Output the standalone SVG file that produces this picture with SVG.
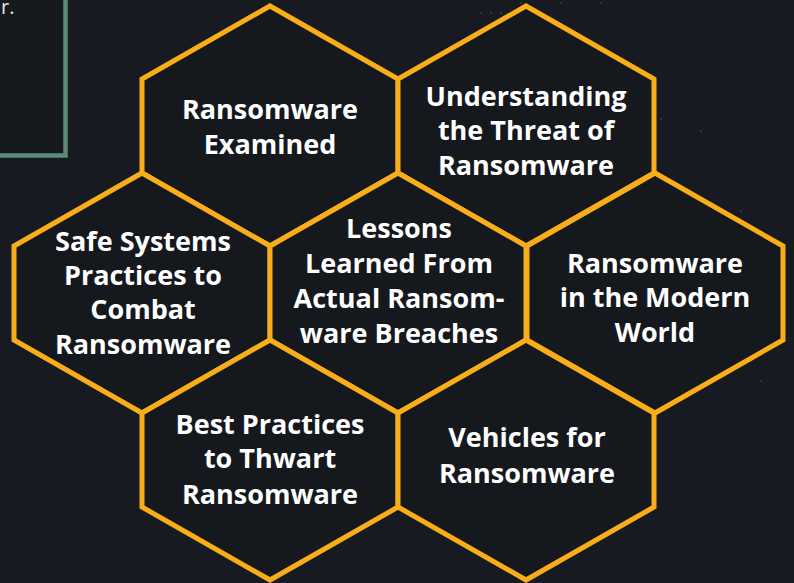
<svg xmlns="http://www.w3.org/2000/svg" width="794" height="583" viewBox="0 0 794 583">
<style>
.hex{fill:#15181d;stroke:#f9ad19;stroke-width:5;stroke-linejoin:miter}
.lbl{font-family:"Open Sans","Noto Sans","Liberation Sans",sans-serif;font-weight:700;font-size:27px;fill:#ffffff;text-anchor:middle}
.dot{fill:#2f5a45;opacity:0.5}
</style>
<defs>
<polygon id="h" points="0,-120 128,-47 128,47 0,120 -128,47 -128,-47"/>
</defs>
<rect x="0" y="0" width="794" height="583" fill="#171b21"/>
<g id="dots">
<rect class="dot" x="480" y="12" width="2" height="2"/>
<rect class="dot" x="490" y="12" width="2" height="2"/>
<rect class="dot" x="500" y="12" width="2" height="2"/>
<rect class="dot" x="520" y="2" width="2" height="2"/>
<rect class="dot" x="560" y="2" width="2" height="2"/>
<rect class="dot" x="600" y="2" width="2" height="2"/>
<rect class="dot" x="660" y="118" width="2" height="2"/>
<rect class="dot" x="700" y="130" width="2" height="2"/>
<rect class="dot" x="740" y="210" width="2" height="2"/>
<rect class="dot" x="760" y="380" width="2" height="2"/>
</g>
<g id="intro-box">
<rect x="-10" y="-10" width="75.5" height="165.5" fill="#161a1f" stroke="#5a8c78" stroke-width="4.5"/>
<text x="1" y="14" font-family="Open Sans,Noto Sans,Liberation Sans,sans-serif" font-size="20" fill="#e6e6e6">r.</text>
</g>
<g id="hex-ransomware-examined">
<use href="#h" class="hex" x="270" y="126"/>
<text class="lbl" x="270" y="119">Ransomware</text>
<text class="lbl" x="270" y="154">Examined</text>
</g>
<g id="hex-understanding-threat">
<use href="#h" class="hex" x="526" y="126"/>
<text class="lbl" x="526" y="106">Understanding</text>
<text class="lbl" x="526" y="140">the Threat of</text>
<text class="lbl" x="526" y="175">Ransomware</text>
</g>
<g id="hex-safe-systems">
<use href="#h" class="hex" x="142" y="293"/>
<text class="lbl" x="143" y="251">Safe Systems</text>
<text class="lbl" x="143" y="285">Practices to</text>
<text class="lbl" x="143" y="319">Combat</text>
<text class="lbl" x="143" y="354">Ransomware</text>
</g>
<g id="hex-lessons-learned">
<use href="#h" class="hex" x="398" y="293"/>
<text class="lbl" x="399" y="238">Lessons</text>
<text class="lbl" x="399" y="273">Learned From</text>
<text class="lbl" x="399" y="308">Actual Ransom-</text>
<text class="lbl" x="399" y="343">ware Breaches</text>
</g>
<g id="hex-modern-world">
<use href="#h" class="hex" x="655" y="293"/>
<text class="lbl" x="655" y="273">Ransomware</text>
<text class="lbl" x="655" y="307">in the Modern</text>
<text class="lbl" x="655" y="342">World</text>
</g>
<g id="hex-best-practices">
<use href="#h" class="hex" x="270" y="460"/>
<text class="lbl" x="270" y="434">Best Practices</text>
<text class="lbl" x="270" y="468">to Thwart</text>
<text class="lbl" x="270" y="504">Ransomware</text>
</g>
<g id="hex-vehicles">
<use href="#h" class="hex" x="526" y="460"/>
<text class="lbl" x="527" y="447">Vehicles for</text>
<text class="lbl" x="527" y="483">Ransomware</text>
</g>
</svg>
